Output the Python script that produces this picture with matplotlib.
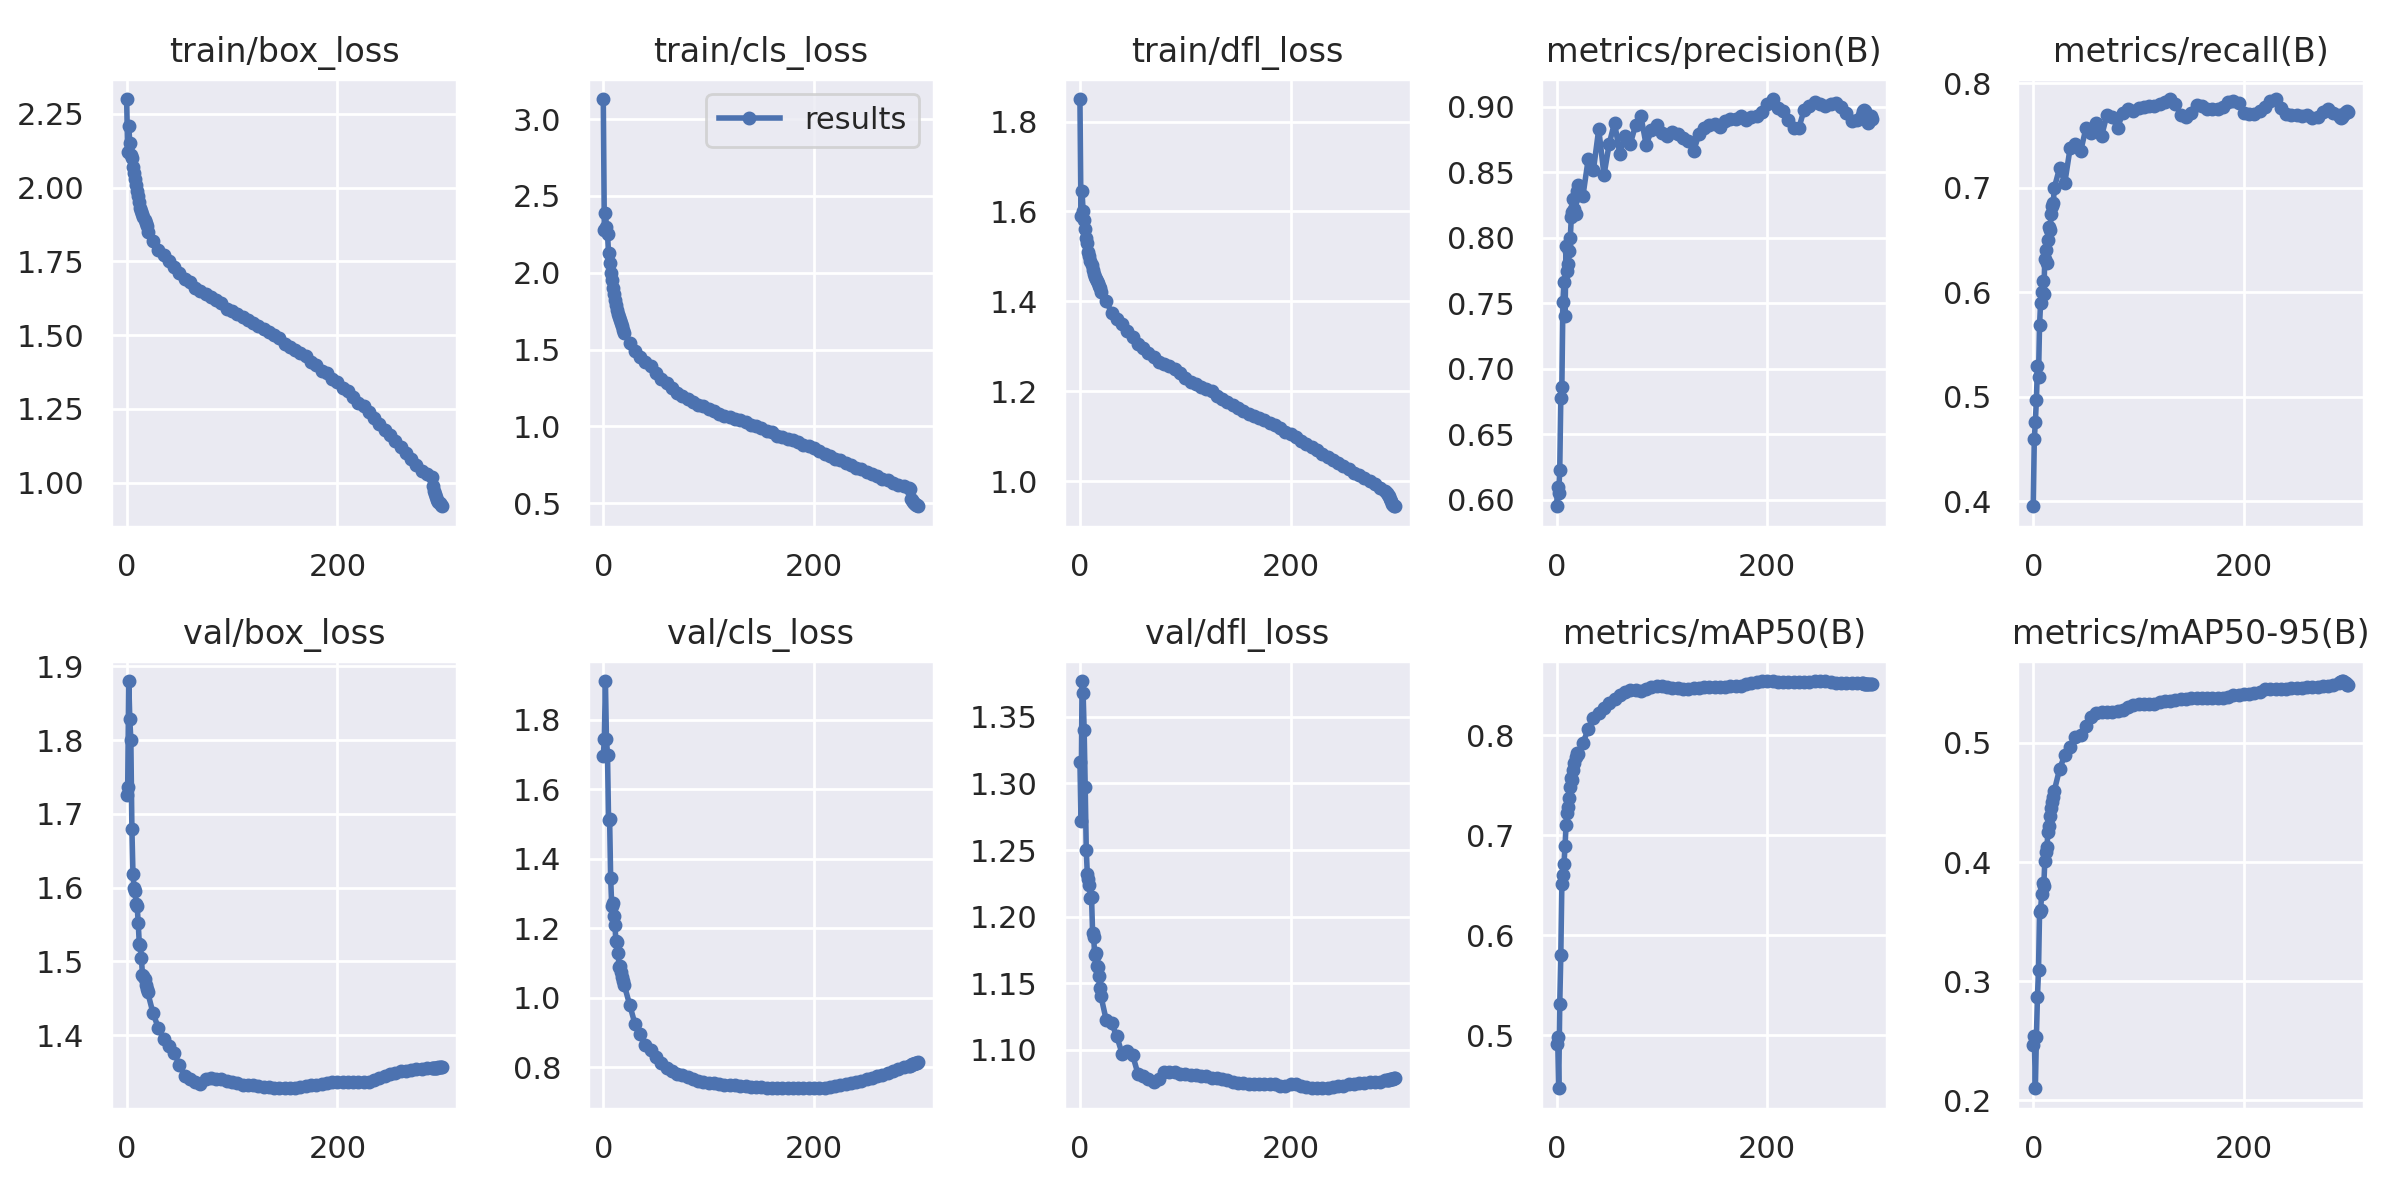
import matplotlib
matplotlib.use("Agg")
import matplotlib.pyplot as plt

# epochs: every epoch early on, then every 5th, then the last 10
epochs = list(range(0, 20)) + list(range(20, 290, 5)) + list(range(290, 300))

train_box_loss = [
    2.30, 2.12, 2.21, 2.15, 2.11, 2.10, 2.07, 2.05, 2.03, 2.01,
    1.99, 1.97, 1.95, 1.93, 1.92, 1.91, 1.90, 1.89, 1.88, 1.87,
    1.85, 1.82, 1.79, 1.77, 1.75, 1.73, 1.71, 1.69, 1.68, 1.66,
    1.65, 1.64, 1.63, 1.62, 1.61, 1.59, 1.58, 1.57, 1.56, 1.55,
    1.54, 1.53, 1.52, 1.51, 1.50, 1.49, 1.47, 1.46, 1.45, 1.44,
    1.43, 1.41, 1.40, 1.38, 1.37, 1.35, 1.34, 1.32, 1.31, 1.29,
    1.27, 1.26, 1.24, 1.22, 1.20, 1.18, 1.16, 1.14, 1.12, 1.10,
    1.08, 1.06, 1.04, 1.03,
    1.02, 0.99, 0.97, 0.96, 0.95, 0.94, 0.935, 0.93, 0.925, 0.92,
]

train_cls_loss = [
    3.13, 2.28, 2.39, 2.30, 2.25, 2.13, 2.06, 2.00, 1.95, 1.90,
    1.86, 1.82, 1.79, 1.76, 1.73, 1.71, 1.69, 1.67, 1.65, 1.63,
    1.61, 1.54, 1.49, 1.45, 1.42, 1.39, 1.35, 1.31, 1.28, 1.25,
    1.22, 1.20, 1.18, 1.16, 1.14, 1.13, 1.11, 1.10, 1.08, 1.07,
    1.06, 1.05, 1.04, 1.03, 1.01, 1.00, 0.99, 0.97, 0.96, 0.94,
    0.93, 0.92, 0.91, 0.90, 0.88, 0.87, 0.86, 0.84, 0.82, 0.81,
    0.79, 0.78, 0.76, 0.75, 0.73, 0.72, 0.70, 0.69, 0.68, 0.66,
    0.65, 0.63, 0.62, 0.61,
    0.60, 0.595, 0.53, 0.52, 0.51, 0.50, 0.495, 0.49, 0.485, 0.48,
]

train_dfl_loss = [
    1.85, 1.59, 1.645, 1.60, 1.58, 1.56, 1.54, 1.53, 1.51, 1.50,
    1.49, 1.48, 1.47, 1.46, 1.455, 1.45, 1.445, 1.44, 1.435, 1.43,
    1.42, 1.40, 1.375, 1.36, 1.35, 1.335, 1.32, 1.305, 1.295, 1.285,
    1.275, 1.265, 1.26, 1.255, 1.25, 1.24, 1.23, 1.22, 1.215, 1.21,
    1.205, 1.20, 1.19, 1.183, 1.177, 1.17, 1.163, 1.157, 1.15, 1.145,
    1.14, 1.135, 1.13, 1.125, 1.118, 1.11, 1.105, 1.097, 1.09, 1.083,
    1.076, 1.069, 1.06, 1.053, 1.046, 1.04, 1.033, 1.026, 1.019, 1.013,
    1.006, 1.0, 0.993, 0.985,
    0.977, 0.974, 0.97, 0.966, 0.96, 0.955, 0.95, 0.947, 0.945, 0.944,
]

precision = [
    0.595, 0.61, 0.605, 0.623, 0.678, 0.686, 0.751, 0.766, 0.74, 0.794,
    0.775, 0.78, 0.79, 0.80, 0.816, 0.82, 0.83, 0.822, 0.818, 0.836,
    0.84, 0.832, 0.86, 0.852, 0.883, 0.848, 0.872, 0.888, 0.864, 0.878,
    0.872, 0.886, 0.893, 0.871, 0.882, 0.886, 0.880, 0.878, 0.881, 0.879,
    0.876, 0.874, 0.866, 0.879, 0.884, 0.886, 0.887, 0.885, 0.889, 0.891,
    0.891, 0.893, 0.890, 0.892, 0.893, 0.896, 0.902, 0.906, 0.899, 0.897,
    0.890, 0.884, 0.884, 0.898, 0.901, 0.904, 0.902, 0.901, 0.902, 0.903,
    0.900, 0.895, 0.889, 0.890,
    0.894, 0.897, 0.898, 0.897, 0.894, 0.890, 0.888, 0.889, 0.893, 0.891,
]

recall = [
    0.395, 0.459, 0.476, 0.497, 0.529, 0.519, 0.569, 0.59, 0.60, 0.611,
    0.598, 0.632, 0.64, 0.628, 0.65, 0.662, 0.66, 0.675, 0.683, 0.685,
    0.70, 0.719, 0.705, 0.738, 0.742, 0.735, 0.757, 0.752, 0.762, 0.75,
    0.77, 0.768, 0.757, 0.772, 0.775, 0.774, 0.776, 0.777, 0.778, 0.778,
    0.780, 0.782, 0.785, 0.780, 0.770, 0.768, 0.772, 0.779, 0.778, 0.775,
    0.775, 0.775, 0.777, 0.782, 0.783, 0.781, 0.772, 0.771, 0.771, 0.774,
    0.777, 0.783, 0.785, 0.776, 0.771, 0.770, 0.770, 0.769, 0.770, 0.767,
    0.768, 0.773, 0.775, 0.772,
    0.770, 0.768, 0.767, 0.768, 0.770, 0.771, 0.772, 0.773, 0.774, 0.773,
]

val_box_loss = [
    1.726, 1.736, 1.880, 1.828, 1.800, 1.679, 1.619, 1.600, 1.596, 1.578,
    1.575, 1.552, 1.524, 1.522, 1.505, 1.482, 1.480, 1.476, 1.468, 1.462,
    1.458, 1.43, 1.41, 1.395, 1.385, 1.376, 1.36, 1.345, 1.34, 1.336,
    1.334, 1.341, 1.342, 1.341, 1.340, 1.338, 1.337, 1.335, 1.333, 1.332,
    1.332, 1.331, 1.330, 1.330, 1.329, 1.328, 1.328, 1.328, 1.329, 1.330,
    1.331, 1.332, 1.333, 1.334, 1.335, 1.336, 1.337, 1.337, 1.337, 1.337,
    1.337, 1.336, 1.337, 1.339, 1.342, 1.344, 1.347, 1.349, 1.351, 1.352,
    1.353, 1.354, 1.354, 1.355,
    1.355, 1.355, 1.356, 1.356, 1.356, 1.356, 1.357, 1.357, 1.357, 1.357,
]

val_cls_loss = [
    1.696, 1.745, 1.912, 1.745, 1.700, 1.511, 1.515, 1.344, 1.265, 1.272,
    1.234, 1.209, 1.163, 1.160, 1.130, 1.089, 1.090, 1.075, 1.060, 1.048,
    1.035, 0.98, 0.925, 0.895, 0.865, 0.848, 0.83, 0.812, 0.798, 0.788,
    0.780, 0.776, 0.770, 0.765, 0.761, 0.758, 0.755, 0.753, 0.751, 0.749,
    0.748, 0.747, 0.746, 0.745, 0.744, 0.743, 0.742, 0.741, 0.741, 0.740,
    0.740, 0.740, 0.740, 0.739, 0.739, 0.740, 0.740, 0.740, 0.741, 0.743,
    0.745, 0.748, 0.751, 0.754, 0.757, 0.761, 0.765, 0.769, 0.774, 0.778,
    0.783, 0.789, 0.794, 0.799,
    0.802, 0.804, 0.806, 0.808, 0.809, 0.810, 0.811, 0.812, 0.813, 0.814,
]

val_dfl_loss = [
    1.316, 1.272, 1.377, 1.368, 1.340, 1.297, 1.250, 1.232, 1.228, 1.224,
    1.214, 1.215, 1.188, 1.185, 1.171, 1.173, 1.163, 1.162, 1.155, 1.146,
    1.140, 1.122, 1.120, 1.110, 1.097, 1.099, 1.096, 1.082, 1.080, 1.078,
    1.076, 1.078, 1.083, 1.083, 1.083, 1.082, 1.082, 1.081, 1.081, 1.080,
    1.080, 1.079, 1.079, 1.078, 1.077, 1.076, 1.075, 1.075, 1.074, 1.074,
    1.074, 1.074, 1.074, 1.074, 1.073, 1.073, 1.074, 1.074, 1.073, 1.072,
    1.071, 1.071, 1.071, 1.071, 1.072, 1.073, 1.073, 1.074, 1.074, 1.075,
    1.075, 1.076, 1.076, 1.076,
    1.077, 1.077, 1.077, 1.077, 1.078, 1.078, 1.078, 1.078, 1.079, 1.079,
]

map50 = [
    0.491, 0.498, 0.447, 0.531, 0.580, 0.651, 0.660, 0.671, 0.689, 0.710,
    0.722, 0.728, 0.737, 0.748, 0.757, 0.755, 0.765, 0.772, 0.778, 0.782,
    0.781, 0.792, 0.806, 0.817, 0.822, 0.827, 0.832, 0.836, 0.840, 0.843,
    0.845, 0.845, 0.844, 0.846, 0.848, 0.849, 0.849, 0.848, 0.847, 0.847,
    0.846, 0.846, 0.847, 0.847, 0.848, 0.848, 0.848, 0.848, 0.848, 0.849,
    0.849, 0.849, 0.851, 0.852, 0.853, 0.854, 0.854, 0.854, 0.853, 0.853,
    0.853, 0.853, 0.853, 0.853, 0.853, 0.854, 0.854, 0.854, 0.853, 0.852,
    0.852, 0.852, 0.852, 0.852,
    0.852, 0.852, 0.851, 0.851, 0.851, 0.851, 0.851, 0.851, 0.851, 0.851,
]

map50_95 = [
    0.246, 0.254, 0.210, 0.253, 0.287, 0.309, 0.358, 0.360, 0.373, 0.382,
    0.380, 0.401, 0.408, 0.413, 0.425, 0.430, 0.439, 0.445, 0.450, 0.455,
    0.460, 0.478, 0.490, 0.497, 0.505, 0.507, 0.514, 0.522, 0.525, 0.526,
    0.526, 0.526, 0.527, 0.528, 0.530, 0.532, 0.533, 0.533, 0.533, 0.533,
    0.534, 0.535, 0.535, 0.536, 0.537, 0.537, 0.538, 0.538, 0.538, 0.538,
    0.538, 0.538, 0.538, 0.539, 0.540, 0.540, 0.541, 0.541, 0.542, 0.543,
    0.545, 0.545, 0.545, 0.545, 0.545, 0.546, 0.546, 0.546, 0.547, 0.547,
    0.547, 0.548, 0.548, 0.549,
    0.550, 0.551, 0.551, 0.552, 0.552, 0.551, 0.550, 0.550, 0.549, 0.549,
]

titles = [
    "train/box_loss", "train/cls_loss", "train/dfl_loss",
    "metrics/precision(B)", "metrics/recall(B)",
    "val/box_loss", "val/cls_loss", "val/dfl_loss",
    "metrics/mAP50(B)", "metrics/mAP50-95(B)",
]
series = [
    train_box_loss, train_cls_loss, train_dfl_loss, precision, recall,
    val_box_loss, val_cls_loss, val_dfl_loss, map50, map50_95,
]

# seaborn darkgrid / notebook look, set by hand
plt.rcParams.update({
    "axes.facecolor": "#EAEAF2",
    "axes.edgecolor": "white",
    "axes.grid": True,
    "axes.axisbelow": True,
    "axes.linewidth": 1.25,
    "grid.color": "white",
    "grid.linewidth": 1,
    "text.color": "#262626",
    "axes.labelcolor": "#262626",
    "xtick.color": "#262626",
    "ytick.color": "#262626",
    "xtick.bottom": False,
    "ytick.left": False,
    "xtick.major.size": 6,
    "ytick.major.size": 6,
    "xtick.labelsize": 11,
    "ytick.labelsize": 11,
    "legend.fontsize": 11,
    "font.size": 12,
    "font.family": "DejaVu Sans",
})

fig, axs = plt.subplots(2, 5, figsize=(12, 6), tight_layout=True)
ax = axs.ravel()
for i, (title, y) in enumerate(zip(titles, series)):
    ax[i].plot(epochs, y, marker=".", label="results", linewidth=2, markersize=8, color="#4C72B0")
    ax[i].set_title(title, fontsize=12)
ax[1].legend(loc="upper right")

fig.savefig("out.png", dpi=200)
